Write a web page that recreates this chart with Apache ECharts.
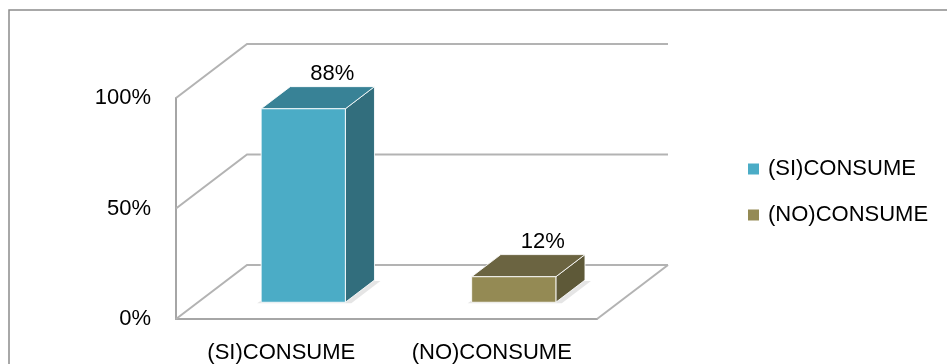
<!DOCTYPE html>
<html>
<head>
<meta charset="utf-8">
<script src="https://cdn.jsdelivr.net/npm/echarts@6/dist/echarts.min.js"></script>
<style>html,body{margin:0;padding:0;background:#fff}#c{width:947px;height:364px}</style>
</head>
<body>
<div id="c"></div>
<script>
const categories = ['(SI)CONSUME', '(NO)CONSUME'];
const values = [88, 12];
const yTicks = [0, 50, 100];

const FONT = 'Liberation Sans, Arial, sans-serif';
const DX = 71, DY = -54;       // wall depth vector
const F0 = 0.31, F1 = 0.72;    // bar front/back depth fractions
const faceColors = [
  { front: '#4BACC6', top: '#388296', side: '#326E7D' },
  { front: '#948A54', top: '#6B6441', side: '#5E5938' }
];

function renderWall(params, api) {
  const cs = params.coordSys;
  const t = api.value(1);
  const y = api.coord([0, t])[1];
  const left = cs.x, right = cs.x + cs.width;
  const st = { stroke: '#b3b3b3', lineWidth: 2, fill: null };
  const children = [{
    type: 'polyline',
    shape: { points: [[left, y], [left + DX, y + DY], [right + DX, y + DY]] },
    style: st, silent: true
  }];
  if (t === 0) {
    children.push({
      type: 'line',
      shape: { x1: right, y1: y, x2: right + DX, y2: y + DY },
      style: st, silent: true
    });
  }
  return { type: 'group', children: children };
}

function makeBarRenderer(ci) {
  return function (params, api) {
    const cat = api.value(0), val = api.value(1);
    const base = api.coord([cat, 0]);
    const top = api.coord([cat, val]);
    const band = api.size([1, 0])[0];
    const w = band * 0.4;
    const x0 = base[0] + DX * F0 - w / 2, x1 = x0 + w;
    const yb = base[1] + DY * F0, yt = top[1] + DY * F0 + 1;
    const ddx = DX * (F1 - F0), ddy = DY * (F1 - F0);
    const c = faceColors[ci];
    const edge = 'rgba(255,255,255,0.85)';
    return {
      type: 'group',
      children: [
        { type: 'polygon', silent: true,
          shape: { points: [[x0 - 4, yb + 1], [x1 + 6, yb + 1], [x1 + ddx + 6, yb + ddy + 1], [x0 + ddx, yb + ddy + 1]] },
          style: { fill: 'rgba(0,0,0,0.10)' } },
        { type: 'polygon',
          shape: { points: [[x1, yb], [x1 + ddx, yb + ddy], [x1 + ddx, yt + ddy], [x1, yt]] },
          style: { fill: c.side, stroke: edge, lineWidth: 1 } },
        { type: 'polygon',
          shape: { points: [[x0, yt], [x1, yt], [x1 + ddx, yt + ddy], [x0 + ddx, yt + ddy]] },
          style: { fill: c.top, stroke: edge, lineWidth: 1 } },
        { type: 'rect',
          shape: { x: x0, y: yt, width: w, height: yb - yt },
          style: { fill: c.front, stroke: edge, lineWidth: 1 } },
        { type: 'text',
          style: { text: val + '%', x: (x0 + x1) / 2 + ddx, y: yt + ddy - 2,
                   align: 'center', verticalAlign: 'bottom',
                   font: '22px ' + FONT, fill: '#000' } }
      ]
    };
  };
}

const series = [{
  type: 'custom',
  name: 'wall',
  renderItem: renderWall,
  data: yTicks.map(t => [0, t]),
  z: 1,
  silent: true
}];
categories.forEach((name, i) => {
  series.push({
    type: 'custom',
    name: name,
    renderItem: makeBarRenderer(i),
    itemStyle: { color: faceColors[i].front },
    data: [[i, values[i]]],
    z: 5
  });
});

const chart = echarts.init(document.getElementById('c'), null, { renderer: 'canvas' });
chart.setOption({
  animation: false,
  backgroundColor: '#fff',
  graphic: [{
    type: 'rect', silent: true, z: 0,
    shape: { x: 9, y: 10, width: 1000, height: 400 },
    style: { fill: null, stroke: '#8c8c8c', lineWidth: 1.5 }
  }],
  grid: { left: 176, top: 98, width: 421, height: 222 },
  legend: {
    data: categories,
    orient: 'vertical',
    left: 743, top: 153,
    icon: 'rect',
    itemWidth: 11, itemHeight: 11,
    itemGap: 24,
    textStyle: { fontFamily: FONT, fontSize: 22, color: '#000', padding: [0, 0, 0, 4] }
  },
  xAxis: {
    type: 'category',
    data: categories,
    axisLine: { show: true, lineStyle: { color: '#a6a6a6', width: 2 } },
    axisTick: { show: false },
    axisLabel: { fontFamily: FONT, fontSize: 22, color: '#000', margin: 23 },
    splitLine: { show: false }
  },
  yAxis: {
    type: 'value',
    min: 0, max: 100, interval: 50,
    axisLine: { show: true, lineStyle: { color: '#a6a6a6', width: 2 } },
    axisTick: { show: false },
    axisLabel: { fontFamily: FONT, fontSize: 22, color: '#000', margin: 25, formatter: '{value}%' },
    splitLine: { show: false }
  },
  series: series
});
</script>
</body>
</html>
